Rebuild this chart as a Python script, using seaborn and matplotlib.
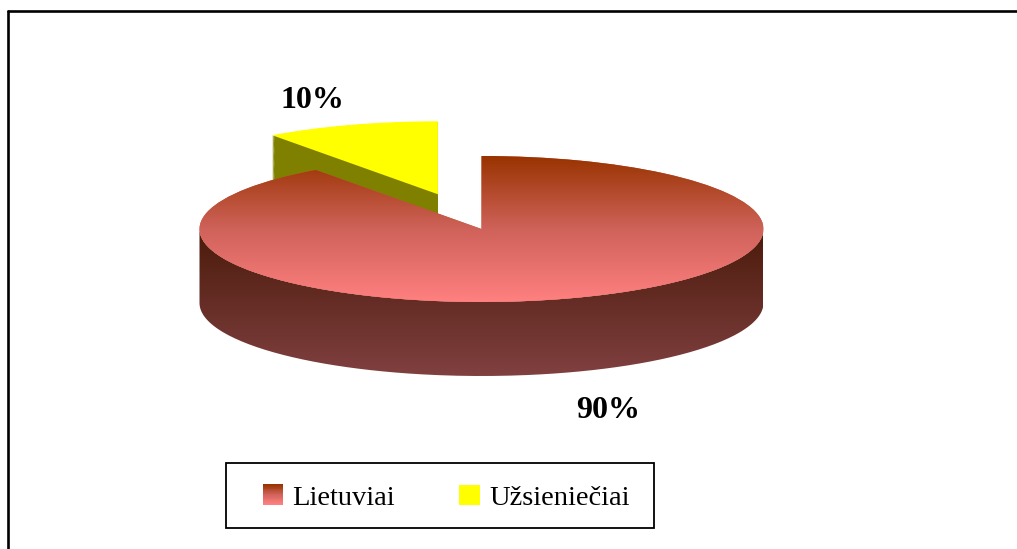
import numpy as np
import matplotlib
matplotlib.use("Agg")
import matplotlib.pyplot as plt
import seaborn as sns
from matplotlib.colors import LinearSegmentedColormap
from matplotlib.legend_handler import HandlerBase
from matplotlib.lines import Line2D
from matplotlib.patches import Rectangle, PathPatch
from matplotlib.path import Path

categories = ["Lietuviai", "Užsieniečiai"]
shares = [90, 10]
value_labels = ["90%", "10%"]

W, H = 1017, 549
CX, CY, RX, RY, DEPTH = 481.5, 229, 282, 73, 74
sns.set_theme(style="white")
plt.rcParams["font.family"] = ["Liberation Serif", "DejaVu Serif"]

top_cmap = LinearSegmentedColormap.from_list("top", ["#993300", "#cf625a", "#ff8080"])
side_cmap = LinearSegmentedColormap.from_list("side", ["#4a1a0a", "#804040"])
yellow, olive = "#ffff00", "#808000"

fig = plt.figure(figsize=(W / 100, H / 100), dpi=100, facecolor="white")
ax = fig.add_axes([0, 0, 1, 1])
xlim = (-CX / RX, (W - CX) / RX)
ylim = ((CY - H) / RY, CY / RY)
d = DEPTH / RY
explode = [0, 0.5]

# exploded slice wall, stacked layers
for k in np.linspace(d, 0.01, 80):
    w, _ = ax.pie(shares, explode=explode, startangle=90, counterclock=False,
                  center=(0, -k), colors=["none", olive],
                  wedgeprops={"linewidth": 0, "zorder": 1})

# main slice front wall: gradient clipped to the cylinder band
t = np.linspace(np.pi, 2 * np.pi, 200)
xs = np.cos(t)
ys = np.sin(t)
verts = np.r_[np.c_[xs, ys], np.c_[xs[::-1], ys[::-1] - d], [[xs[0], ys[0]]]]
band = PathPatch(Path(verts), transform=ax.transData, fc="none", lw=0)
ax.add_patch(band)
grad = np.linspace(0, 1, 256)[:, None]
im = ax.imshow(grad, cmap=side_cmap, extent=(-1, 1, -1 - d, 0), aspect="auto",
               origin="upper", zorder=2)
im.set_clip_path(band)

# top faces
wedges, _ = ax.pie(shares, explode=explode, startangle=90, counterclock=False,
                   colors=["#cc5a40", yellow],
                   wedgeprops={"linewidth": 0, "zorder": 3})
im2 = ax.imshow(grad, cmap=top_cmap, extent=(-1, 1, -1, 1), aspect="auto",
                origin="upper", zorder=3)
im2.set_clip_path(wedges[0])
wedges[1].set_zorder(1.5)

ax.set_aspect("auto")
ax.set_xlim(*xlim)
ax.set_ylim(*ylim)
ax.axis("off")

def fx(px):
    return px / W
def fy(py):
    return 1 - py / H

fig.text(fx(608), fy(410), value_labels[0], ha="center", va="center",
         fontsize=23, fontweight="bold", color="black")
fig.text(fx(312), fy(100), value_labels[1], ha="center", va="center",
         fontsize=23, fontweight="bold", color="black")

# outer frame: top and left only
fig.add_artist(Line2D([fx(8), 1], [fy(11), fy(11)], color="black", lw=1.9))
fig.add_artist(Line2D([fx(8), fx(8)], [fy(11), 0], color="black", lw=1.9))

# legend
fig.add_artist(Rectangle((fx(226), fy(528)), 428 / W, 65 / H, transform=fig.transFigure,
                         fc="white", ec="black", lw=1.3, zorder=4))

class GradientHandler(HandlerBase):
    def create_artists(self, legend, orig, x0, y0, width, height, fontsize, trans):
        n = 24
        out = []
        for i in range(n):
            out.append(Rectangle((x0, y0 + height * (n - 1 - i) / n), width, height / n + 0.3,
                                 fc=top_cmap(i / (n - 1)), lw=0, transform=trans))
        return out

h1 = Rectangle((0, 0), 1, 1, label=categories[0])
h2 = Rectangle((0, 0), 1, 1, fc=yellow, lw=0, label=categories[1])
leg = fig.legend(handles=[h1, h2], ncol=2, loc="center left", frameon=False,
                 bbox_to_anchor=(fx(263), fy(498)), borderpad=0, borderaxespad=0,
                 prop={"size": 20.5}, handlelength=0.71, handleheight=0.71,
                 handletextpad=0.33, columnspacing=2.25,
                 handler_map={h1: GradientHandler()}, labelcolor="black")
leg.set_zorder(5)

fig.savefig("out.png", dpi=100, facecolor="white")
